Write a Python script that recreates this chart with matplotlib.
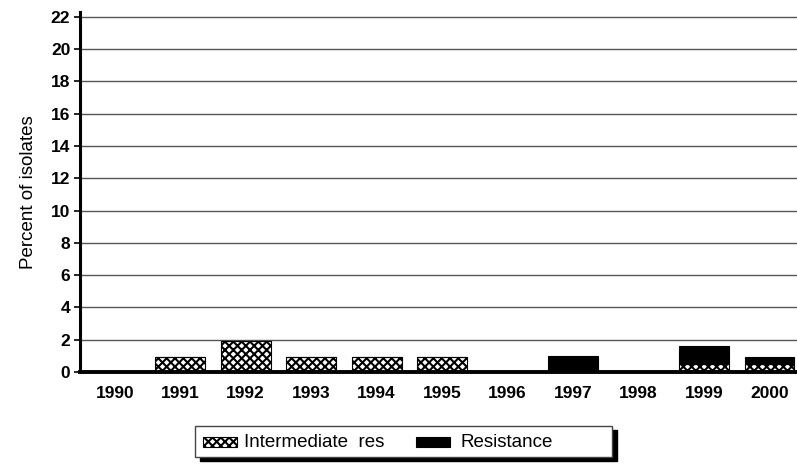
import numpy as np
import matplotlib.pyplot as plt
from matplotlib.patches import Rectangle

plt.rcParams['font.family'] = ['Liberation Sans', 'DejaVu Sans']
plt.rcParams['hatch.linewidth'] = 1.5

years = ['1990', '1991', '1992', '1993', '1994', '1995', '1996', '1997', '1998', '1999', '2000']
intermediate = [0, 0.9, 1.9, 0.95, 0.9, 0.9, 0, 0, 0, 0.5, 0.5]
resistance = [0, 0, 0, 0, 0, 0, 0, 1.0, 0, 1.1, 0.45]
yticks = [0, 2, 4, 6, 8, 10, 12, 14, 16, 18, 20, 22]

fig = plt.figure(figsize=(7.97, 4.65), dpi=100)
ax = fig.add_axes([0.1004, 0.2, 0.8996, 0.774])

x = np.arange(len(years))
w = 0.76
for yv in yticks[1:]:
    ax.axhline(yv, color='#555555', lw=1.0, zorder=0)

ax.bar(x, intermediate, w, color='white', edgecolor='black', hatch='xxxx', lw=0.8, zorder=2)
ax.bar(x, resistance, w, bottom=intermediate, color='black', edgecolor='black', lw=0.8, zorder=2)

ax.set_xlim(-0.53, 10.42)
ax.set_ylim(0, 22.3)
ax.set_yticks(yticks)
ax.set_xticks(x)
ax.set_xticklabels(years, fontsize=12.5, fontweight='bold')
ax.set_yticklabels([str(v) for v in yticks], fontsize=12.5, fontweight='bold')
ax.tick_params(axis='x', length=0, pad=10)
ax.tick_params(axis='y', length=4, width=1.2, pad=3)
for s in ['top', 'right']:
    ax.spines[s].set_visible(False)
ax.spines['left'].set_linewidth(2.2)
ax.spines['bottom'].set_linewidth(2.8)
ax.set_ylabel('Percent of isolates', fontsize=13.5, labelpad=10)

# legend box with shadow
fig.patches.append(Rectangle((200 / 797, 1 - 461 / 465), 417 / 797, 31 / 465,
                             transform=fig.transFigure, facecolor='black', edgecolor='black', zorder=1))
fig.patches.append(Rectangle((195 / 797, 1 - 457 / 465), 417 / 797, 31 / 465,
                             transform=fig.transFigure, facecolor='white', edgecolor='#444444', lw=1, zorder=2))
fig.patches.append(Rectangle((203 / 797, 1 - 447 / 465), 34 / 797, 10 / 465,
                             transform=fig.transFigure, facecolor='white', edgecolor='black', hatch='xxxx', lw=0.8, zorder=3))
fig.patches.append(Rectangle((416 / 797, 1 - 447 / 465), 34 / 797, 10 / 465,
                             transform=fig.transFigure, facecolor='black', edgecolor='black', lw=0.8, zorder=3))
fig.text(244 / 797, 1 - 442 / 465, 'Intermediate  res', fontsize=13.5, va='center', zorder=4)
fig.text(460 / 797, 1 - 442 / 465, 'Resistance', fontsize=13.5, va='center', zorder=4)

fig.savefig('out.png', dpi=100)
